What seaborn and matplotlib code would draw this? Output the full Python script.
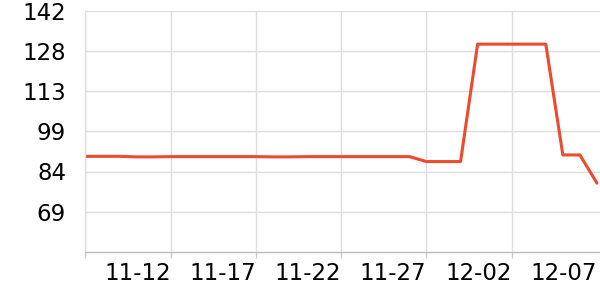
import matplotlib
matplotlib.use("Agg")
import matplotlib.pyplot as plt
import seaborn as sns
import pandas as pd

# data
days = list(range(31))  # 11-07 .. 12-07
values = [89.5, 89.5, 89.5, 89.3, 89.3,
          89.4, 89.4, 89.4, 89.4, 89.4,
          89.4, 89.3, 89.3, 89.4, 89.4,
          89.4, 89.4, 89.4, 89.4, 89.4,
          87.6, 87.6, 87.6, 130.2, 130.2,
          130.2, 130.2, 130.2, 90.0, 90.0,
          79.8]
xtick_days = [0, 5, 10, 15, 20, 25, 30]
xtick_labels = ["", "11-12", "11-17", "11-22", "11-27", "12-02", "12-07"]
ytick_vals = [69.4, 84.0, 98.6, 113.2, 127.8, 142.4]
ytick_labels = ["69", "84", "99", "113", "128", "142"]
y_min, y_max = 54.8, 142.4

df = pd.DataFrame({"day": days, "value": values})

sns.set_style("white")
plt.rcParams["font.family"] = ["DejaVu Sans"]

fig = plt.figure(figsize=(6, 3), dpi=100)
ax = fig.add_axes([85.5 / 600, 1 - 252 / 300, 1 - 85.5 / 600, (252 - 10.5) / 300])

sns.lineplot(data=df, x="day", y="value", ax=ax, color="#ee4a2c", linewidth=2.2)

ax.set_xlim(0, 30.18)
ax.set_ylim(y_min, y_max)
ax.set_xticks(xtick_days)
ax.set_xticklabels(xtick_labels, ha="right")
ax.set_yticks(ytick_vals)
ax.set_yticklabels(ytick_labels)
ax.set_xlabel("")
ax.set_ylabel("")

ax.grid(True, color="#dddddd", linewidth=1)
ax.set_axisbelow(True)
for s in ["top", "right"]:
    ax.spines[s].set_visible(False)
ax.spines["left"].set_color("#dddddd")
ax.spines["left"].set_linewidth(1)
ax.spines["bottom"].set_color("#bbbbbb")
ax.spines["bottom"].set_linewidth(1)

ax.tick_params(axis="x", length=4, width=1, color="#cccccc", pad=3, labelsize=16.5, labelcolor="black", bottom=True)
ax.tick_params(axis="y", length=0, pad=14, labelsize=16.5, labelcolor="black")

ax.get_xgridlines()[-1].set_visible(False)
ax.xaxis.get_major_ticks()[-1].tick1line.set_visible(False)

fig.savefig("out.png", dpi=100)
